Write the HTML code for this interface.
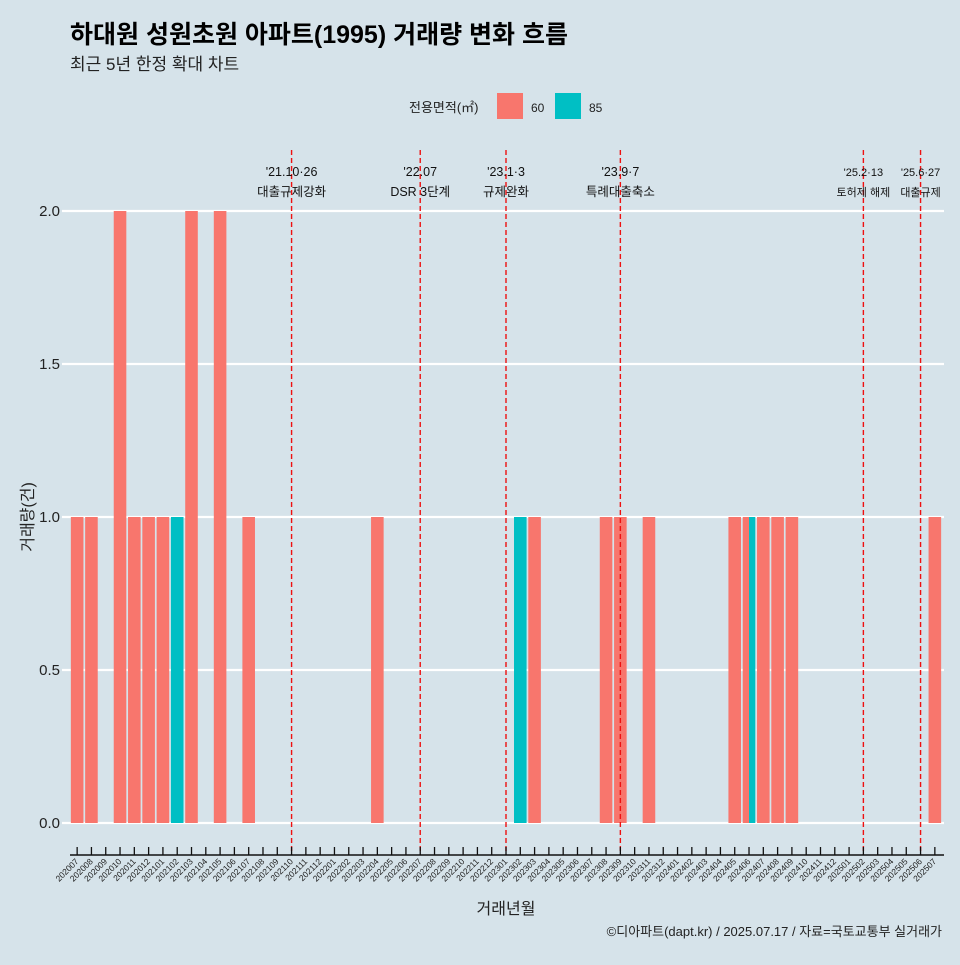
<!DOCTYPE html>
<html><head><meta charset="utf-8"><style>
body{margin:0;background:#d6e3ea;}
svg text{font-family:"Liberation Sans","Noto Sans CJK KR",sans-serif;}
</style></head><body>
<svg width="960" height="960" viewBox="0 0 960 960">
<rect width="960" height="960" fill="#d6e3ea"/>
<text x="70" y="43" font-size="25" font-weight="bold" fill="#000">하대원 성원초원 아파트(1995) 거래량 변화 흐름</text>
<text x="70" y="70" font-size="17" fill="#222">최근 5년 한정 확대 차트</text>
<g>
<text x="409" y="112" font-size="13" fill="#222">전용면적(㎡)</text>
<rect x="497" y="93" width="26" height="26" fill="#f8766d"/>
<text x="531" y="112" font-size="12" fill="#222">60</text>
<rect x="555" y="93" width="26" height="26" fill="#00bfc4"/>
<text x="589" y="112" font-size="12" fill="#222">85</text>
</g>
<g id="grid"></g><g id="bars"></g><g id="events"></g><g id="axes"></g>
<text transform="translate(33,517) rotate(-90)" text-anchor="middle" font-size="16" fill="#222">거래량(건)</text>
<text x="506" y="914" text-anchor="middle" font-size="16" fill="#222">거래년월</text>
<text x="942" y="936" text-anchor="end" font-size="13" fill="#222">©디아파트(dapt.kr) / 2025.07.17 / 자료=국토교통부 실거래가</text>
</svg>
<script>
const months=[];for(let y=2020,m=7;!(y===2025&&m===8);){months.push(y+String(m).padStart(2,'0'));m++;if(m>12){m=1;y++;}}
const series60=[["202007",1],["202008",1],["202010",2],["202011",1],["202012",1],["202101",1],["202103",2],["202105",2],["202107",1],["202204",1],["202303",1],["202308",1],["202309",1],["202311",1],["202405",1],["202406",1],["202407",1],["202408",1],["202409",1],["202507",1]];
const series85=[["202102",1],["202302",1],["202406",1]];
const yTicks=[0,0.5,1,1.5,2];
const yTickLabels=["0.0","0.5","1.0","1.5","2.0"];
const eventMonths=["202110","202207","202301","202309","202502","202506"];
const eventDates=["'21.10·26","'22.07","'23.1·3","'23.9·7","'25.2·13","'25.6·27"];
const eventTexts=["대출규제강화","DSR 3단계","규제완화","특례대출축소","토허제 해제","대출규제"];
const NS="http://www.w3.org/2000/svg";
const X0=70,X1=942,step=(X1-X0)/months.length,Y0=823,PX=306;
const xc=m=>X0+(months.indexOf(m)+0.5)*step;
const yv=v=>Y0-v*PX;
function mk(p,t,a){const e=document.createElementNS(NS,t);for(const k in a)e.setAttribute(k,a[k]);p.appendChild(e);return e;}
const G=document.getElementById('grid'),B=document.getElementById('bars'),E=document.getElementById('events'),A=document.getElementById('axes');
yTicks.forEach((v,i)=>{
 const l=mk(G,'line',{x1:62,x2:944,y1:yv(v),y2:yv(v),stroke:'#fff','stroke-width':2.2});
 
 
 const t=mk(A,'text',{x:60,y:yv(v)+5,'text-anchor':'end','font-size':15,fill:'#222'});
 t.textContent=yTickLabels[i];
 
 
});
const s60=new Set(series60.map(d=>d[0])),s85=new Set(series85.map(d=>d[0]));
const bw=step*0.88;
function drawBars(data,color,other,right){
 data.forEach(([m,v])=>{
  let w=bw,x=xc(m)-bw/2;
  if(other.has(m)){w=bw/2;x=right?xc(m):xc(m)-bw/2;}
  const r=mk(B,'rect',{x:x,y:yv(v),width:w,height:v*PX,fill:color});
  
  
 });
}
drawBars(series60,'#f8766d',s85,false);
drawBars(series85,'#00bfc4',s60,true);
eventMonths.forEach((m,i)=>{
 const x=xc(m);
 const l=mk(E,'line',{x1:x,x2:x,y1:150,y2:855,stroke:'#ee1111','stroke-width':1.4,'stroke-dasharray':'5,3'});
 
 
 const fs=i>=4?11:12.5;
 const t1=mk(E,'text',{x:x,y:176,'text-anchor':'middle','font-size':fs,fill:'#111'});
 t1.textContent=eventDates[i];
 
 
 const t2=mk(E,'text',{x:x,y:196,'text-anchor':'middle','font-size':fs,fill:'#111'});
 t2.textContent=eventTexts[i];
 
 
});
const ax=mk(A,'line',{x1:X0,x2:X1+2,y1:855,y2:855,stroke:'#111','stroke-width':1.6});


months.forEach(m=>{
 const x=xc(m);
 const tk=mk(A,'line',{x1:x,x2:x,y1:847,y2:855,stroke:'#111','stroke-width':1.3});
 
 
 const t=mk(A,'text',{x:x+2,y:862,'text-anchor':'end','font-size':8.5,fill:'#222',transform:`rotate(-45 ${x+2} 862)`});
 t.textContent=m;
 
 
});
</script>
</body></html>
